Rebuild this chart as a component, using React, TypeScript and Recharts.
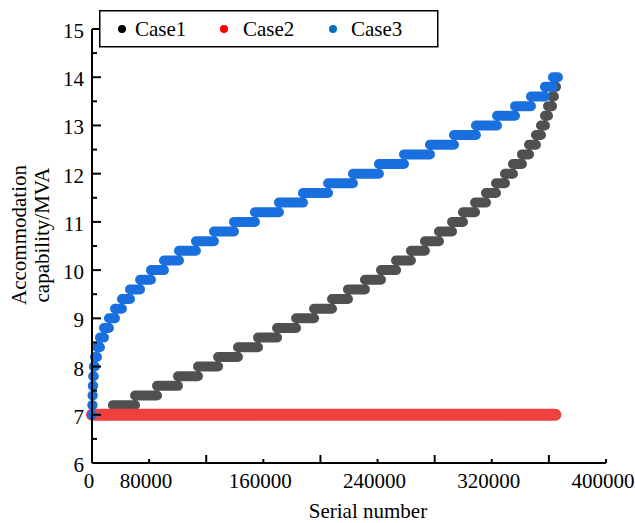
import React from 'react';
import { LineChart, Line, XAxis, YAxis, Legend } from 'recharts';

const FONT = "'Liberation Serif', 'Times New Roman', Times, serif";

const seriesNames = ['Case1', 'Case2', 'Case3'];
const seriesColors = ['#505050', '#f04040', '#1a6fdf'];
const legendColors = ['#000000', '#ff0000', '#0070c0'];
const seriesWidths = [10, 12, 10];

// Case1: sorted accommodation levels and the serial numbers where each level begins/ends
const case1Levels = [
  7.0, 7.2, 7.4, 7.6, 7.8, 8.0, 8.2, 8.4, 8.6, 8.8, 9.0, 9.2, 9.4, 9.6, 9.8, 10.0, 10.2, 10.4,
  10.6, 10.8, 11.0, 11.2, 11.4, 11.6, 11.8, 12.0, 12.2, 12.4, 12.6, 12.8, 13.0, 13.2, 13.4, 13.6, 13.8,
];
const case1Bounds = [
  0, 16300, 33500, 50600, 66900, 82500, 98100, 113600, 129200, 144000, 158800, 172800, 186800,
  199200, 212400, 224900, 236600, 248200, 259100, 270000, 280200, 288700, 298100, 306600, 314400,
  321400, 327600, 334600, 340100, 345500, 349400, 352500, 354900, 358000, 359500, 361100,
];

// Case2: constant level
const case2Levels = [7.0];
const case2Bounds = [0, 360600];

// Case3
const case3Levels = [
  7.0, 7.2, 7.4, 7.6, 7.8, 8.0, 8.2, 8.4, 8.6, 8.8, 9.0, 9.2, 9.4, 9.6, 9.8, 10.0, 10.2, 10.4,
  10.6, 10.8, 11.0, 11.2, 11.4, 11.6, 11.8, 12.0, 12.2, 12.4, 12.6, 12.8, 13.0, 13.2, 13.4, 13.6,
  13.8, 14.0,
];
const case3Bounds = [
  0, 200, 400, 600, 900, 1400, 2300, 3900, 6200, 9300, 13200, 17900, 23300, 29600, 37400, 45900,
  56000, 67700, 80900, 94900, 110500, 126800, 145500, 164200, 183700, 203100, 223300, 242800,
  263000, 281700, 298800, 315200, 329200, 341600, 352500, 358700, 362600,
];

const xDomain = [0, 400000];
const xTickValues = [0, 44444, 88889, 133333, 177778, 222222, 266667, 311111, 355556, 400000];
const xTickLabels = ['0', '80000', '', '160000', '', '240000', '', '320000', '', '400000'];
const yDomain = [6, 15];
const yTickValues = [6, 6.5, 7, 7.5, 8, 8.5, 9, 9.5, 10, 10.5, 11, 11.5, 12, 12.5, 13, 13.5, 14, 14.5, 15];

const xLabel = 'Serial number';
const yLabelLines = ['Accommodation', 'capability/MVA'];

function buildSteps(levels: number[], bounds: number[]) {
  const out: { x: number; y: number | null }[] = [];
  levels.forEach((lv, i) => {
    out.push({ x: bounds[i], y: lv });
    out.push({ x: bounds[i + 1], y: lv });
    out.push({ x: bounds[i + 1], y: null });
  });
  return out;
}

const seriesData = [
  buildSteps(case1Levels, case1Bounds),
  buildSteps(case2Levels, case2Bounds),
  buildSteps(case3Levels, case3Bounds),
];

const XTick = (props: any) => {
  const { x, y, index } = props;
  const label = xTickLabels[index];
  const len = label === '' ? 8 : 4;
  return (
    <g>
      {index > 0 && <line x1={x} y1={y} x2={x} y2={y - len} stroke="#000" strokeWidth={2} />}
      {label !== '' && (
        <text x={x - 3} y={y + 25} textAnchor="middle" fontFamily={FONT} fontSize={21} fill="#000">
          {label}
        </text>
      )}
    </g>
  );
};

const YTick = (props: any) => {
  const { x, y, payload } = props;
  const v = payload.value;
  const major = Number.isInteger(v);
  return (
    <g>
      <line x1={x} y1={y} x2={x + (major ? 9 : 5)} y2={y} stroke="#000" strokeWidth={2} />
      {major && (
        <text x={x - 8} y={y + 9} textAnchor="end" fontFamily={FONT} fontSize={21} fill="#000">
          {v}
        </text>
      )}
    </g>
  );
};

const XLabel = (props: any) => {
  const { viewBox } = props;
  const cx = viewBox.x + viewBox.width / 2 + 19;
  return (
    <text x={cx} y={viewBox.y + 55} textAnchor="middle" fontFamily={FONT} fontSize={21} fill="#000">
      {xLabel}
    </text>
  );
};

const YLabel = (props: any) => {
  const { viewBox } = props;
  const cy = viewBox.y + viewBox.height / 2 - 11;
  return (
    <g>
      {yLabelLines.map((t, i) => (
        <text
          key={t}
          transform={`translate(${26 + i * 23},${cy}) rotate(-90)`}
          textAnchor="middle"
          fontFamily={FONT}
          fontSize={21}
          fill="#000"
        >
          {t}
        </text>
      ))}
    </g>
  );
};

const itemDotX = [23, 125, 234];
const itemTextX = [36, 144, 252];

const LegendBox = () => (
  <svg width={340} height={38} style={{ display: 'block' }}>
    <rect x={0.75} y={0.75} width={338} height={36} fill="#fff" stroke="#000" strokeWidth={1.5} />
    {seriesNames.map((n, i) => (
      <g key={n}>
        <circle cx={itemDotX[i]} cy={19} r={4} fill={legendColors[i]} />
        <text x={itemTextX[i]} y={25.5} fontFamily={FONT} fontSize={21} fill="#000">
          {n}
        </text>
      </g>
    ))}
  </svg>
);

export default function App() {
  return (
    <div style={{ position: 'absolute', left: 0, top: 0, width: 635, height: 523, background: '#fff' }}>
      <LineChart width={635} height={523} margin={{ top: 29, right: 29, bottom: 0, left: 0 }}>
        <XAxis
          type="number"
          dataKey="x"
          domain={xDomain}
          ticks={xTickValues}
          interval={0}
          tick={<XTick />}
          tickLine={false}
          tickSize={0}
          tickMargin={0}
          axisLine={{ stroke: '#000', strokeWidth: 2 }}
          height={60}
          label={<XLabel />}
        />
        <YAxis
          type="number"
          domain={yDomain}
          ticks={yTickValues}
          interval={0}
          tick={<YTick />}
          tickLine={false}
          tickSize={0}
          tickMargin={0}
          axisLine={{ stroke: '#000', strokeWidth: 2 }}
          width={92}
          label={<YLabel />}
        />
        <Legend
          layout="horizontal"
          verticalAlign="middle"
          align="center"
          content={<LegendBox />}
          wrapperStyle={{ left: 99, top: 10, width: 340, height: 38 }}
        />
        {seriesData.map((d, i) => (
          <Line
            key={seriesNames[i]}
            name={seriesNames[i]}
            data={d}
            dataKey="y"
            type="linear"
            stroke={seriesColors[i]}
            strokeWidth={seriesWidths[i]}
            strokeLinecap="round"
            strokeLinejoin="round"
            dot={false}
            activeDot={false}
            connectNulls={false}
            isAnimationActive={false}
          />
        ))}
      </LineChart>
    </div>
  );
}
